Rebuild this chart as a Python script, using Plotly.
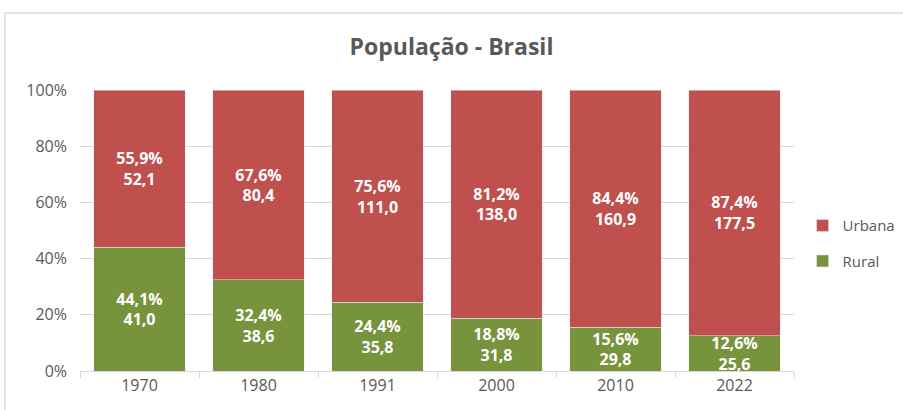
import plotly.graph_objects as go

anos = ["1970", "1980", "1991", "2000", "2010", "2022"]
urbana_pct = [55.9, 67.6, 75.6, 81.2, 84.4, 87.4]
urbana_val = ["52,1", "80,4", "111,0", "138,0", "160,9", "177,5"]
rural_pct = [44.1, 32.4, 24.4, 18.8, 15.6, 12.6]
rural_val = ["41,0", "38,6", "35,8", "31,8", "29,8", "25,6"]
y_ticks = [0, 20, 40, 60, 80, 100]
y_tick_labels = ["0%", "20%", "40%", "60%", "80%", "100%"]

def fmt(p):
    return f"{p:.1f}".replace(".", ",") + "%"

rural_text = [f"<b>{fmt(p)}<br>{v}</b>" for p, v in zip(rural_pct, rural_val)]
urbana_text = [f"<b>{fmt(p)}<br>{v}</b>" for p, v in zip(urbana_pct, urbana_val)]

FONT = "Open Sans"
fig = go.Figure()
fig.add_trace(go.Bar(
    x=anos, y=rural_pct, name="Rural", marker_color="#77933C",
    legendgroup="r", legendrank=2,
    text=rural_text, textposition="inside", insidetextanchor="middle",
    textangle=0, constraintext="none",
    textfont=dict(color="white", size=16, family=FONT),
    hoverinfo="skip", cliponaxis=False,
))
fig.add_trace(go.Bar(
    x=anos, y=urbana_pct, name="Urbana", marker_color="#C0504D",
    legendgroup="u", legendrank=1,
    text=urbana_text, textposition="inside", insidetextanchor="middle",
    textangle=0, constraintext="none",
    textfont=dict(color="white", size=16, family=FONT),
    hoverinfo="skip", cliponaxis=False,
))

fig.update_layout(
    width=903, height=410,
    barmode="stack", bargap=0.235,
    margin=dict(l=80, r=109, t=90, b=39, autoexpand=False),
    paper_bgcolor="white", plot_bgcolor="white",
    font=dict(family=FONT, color="#595959", size=15),
    title=dict(text="<b>População - Brasil</b>", x=0.5, xanchor="center",
               y=1 - 47 / 410, yanchor="middle",
               font=dict(size=23, color="#595959", family=FONT)),
    legend=dict(x=1.012, xanchor="left", y=0.455, yanchor="middle",
                traceorder="grouped", font=dict(size=15, color="#595959"),
                itemwidth=30, tracegroupgap=13, bgcolor="rgba(0,0,0,0)"),
    showlegend=True,
)
fig.update_yaxes(range=[0, 100], tickvals=y_ticks, ticktext=y_tick_labels,
                 showgrid=True, gridcolor="#d9d9d9", gridwidth=1,
                 zeroline=False, showline=False, ticks="",
                 ticklabelstandoff=12, tickfont=dict(size=16, color="#595959"))
fig.update_xaxes(showline=True, linecolor="#d9d9d9", linewidth=1,
                 ticks="outside", tickson="boundaries", ticklen=6,
                 tickcolor="#d9d9d9", tickfont=dict(size=16, color="#595959"))

fig.add_shape(type="rect", xref="paper", yref="paper",
              x0=(5 - 80) / 714, x1=1.3, y0=-0.4, y1=(371 - 13) / 281,
              line=dict(color="#d9d9d9", width=1.5), fillcolor="rgba(0,0,0,0)",
              layer="below")

fig.write_html("out.html", config={"displayModeBar": False},
               post_script="document.body.style.margin='0';document.body.style.padding='0';")
